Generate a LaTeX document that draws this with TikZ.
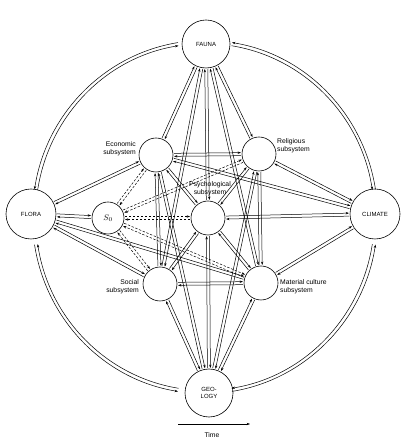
\documentclass[tikz,border=0pt]{standalone}
\usepackage{fontspec}
\setmainfont{Liberation Sans}
\usetikzlibrary{calc,arrows.meta}
\tikzset{
  link/.style={line width=0.5pt, -{Stealth[length=3.4pt,width=2.4pt]}},
  dashedlink/.style={dash pattern=on 2.4pt off 1.6pt},
  bignode/.style={circle, draw, line width=0.6pt, fill=white, minimum size=48pt, inner sep=0pt, font=\fontsize{6}{6.8}\selectfont, align=center},
  subnode/.style={circle, draw, line width=0.6pt, fill=white, minimum size=34pt, inner sep=0pt},
  lbl/.style={font=\fontsize{6.8}{8.2}\selectfont, inner sep=0pt},
}
% [opts]{a}{ra}{b}{rb}
\newcommand\dlink[5][]{%
  \draw[link,#1,shorten <=#3,shorten >=#5] ($(#2)!1.5pt!90:(#4)$) -- ($(#4)!1.5pt!-90:(#2)$);
  \draw[link,#1,shorten <=#5,shorten >=#3] ($(#4)!1.5pt!90:(#2)$) -- ($(#2)!1.5pt!-90:(#4)$);
}
% outer arc pair: {from angle}{to angle}: outer line a->b, inner line b->a
\newcommand\oarc[2]{%
  \draw[link] ($(C)+(#1:172.6pt and 176.6pt)$) arc[start angle=#1, end angle=#2, x radius=172.6pt, y radius=176.6pt];
  \draw[link] ($(C)+(#2:169.4pt and 173.4pt)$) arc[start angle=#2, end angle=#1, x radius=169.4pt, y radius=173.4pt];
}
\begin{document}
\begin{tikzpicture}[x=1pt,y=1pt]
\useasboundingbox (0,0) rectangle (405,441);
\coordinate (C) at (205,224);

% nodes
\node[bignode] (fauna) at (206,397) {FAUNA};
\node[bignode] (geology) at (209,48) {GEO-\\LOGY};
\node[bignode, minimum size=50pt] (flora) at (31,227) {FLORA};
\node[bignode, minimum size=50pt] (climate) at (375,227) {CLIMATE};
\node[subnode, minimum size=32pt, font=\fontsize{8}{9}\selectfont] (s0) at (108,223) {$S_0$};
\node[subnode] (econ) at (156,286) {};
\node[subnode] (relig) at (259,287) {};
\node[subnode] (psych) at (208,223) {};
\node[subnode] (social) at (160,157) {};
\node[subnode] (mat) at (261,158) {};

% labels
\node[lbl, align=right, anchor=east] (leco) at (136,292) {Economic\\subsystem};
\node[lbl, align=left, anchor=west] (lrel) at (277,295) {Religious\\subsystem};
\node[lbl, align=center] (lpsy) at (210,252) {Psychological\\subsystem};
\node[lbl, align=right, anchor=east] (lsoc) at (139,154) {Social\\subsystem};
\node[lbl, align=left, anchor=west] (lmat) at (280,154) {Material culture\\subsystem};

% outer ring
\oarc{9}{81}
\oarc{99}{171}
\oarc{189}{261}
\oarc{279}{351}

% fauna
\dlink{fauna}{25pt}{econ}{18pt}
\dlink{fauna}{25pt}{relig}{18pt}
\dlink{fauna}{25pt}{psych}{18pt}
\dlink{fauna}{25pt}{social}{18pt}
\dlink{fauna}{25pt}{mat}{18pt}
% flora
\dlink{flora}{26pt}{econ}{18pt}
\dlink{flora}{26pt}{s0}{17pt}
\dlink{flora}{26pt}{social}{18pt}
\dlink{flora}{26pt}{mat}{18pt}
% climate
\dlink{climate}{26pt}{econ}{18pt}
\dlink{climate}{26pt}{relig}{18pt}
\dlink{climate}{26pt}{psych}{18pt}
\dlink{climate}{26pt}{mat}{18pt}
% geology
\dlink{geology}{25pt}{social}{18pt}
\dlink{geology}{25pt}{mat}{18pt}
\dlink{geology}{25pt}{econ}{18pt}
\dlink{geology}{25pt}{relig}{18pt}
\dlink{geology}{25pt}{psych}{18pt}
% subsystems
\dlink{econ}{18pt}{relig}{18pt}
\dlink{econ}{18pt}{social}{18pt}
\dlink{relig}{18pt}{mat}{18pt}
\dlink{social}{18pt}{mat}{18pt}
\dlink{psych}{18pt}{econ}{18pt}
\dlink{psych}{18pt}{relig}{18pt}
\dlink{psych}{18pt}{social}{18pt}
\dlink{psych}{18pt}{mat}{18pt}
% S0 dashed
\dlink[dashedlink]{s0}{17pt}{econ}{18pt}
\dlink[dashedlink]{s0}{17pt}{relig}{18pt}
\dlink[dashedlink]{s0}{17pt}{psych}{18pt}
\dlink[dashedlink]{s0}{17pt}{social}{18pt}
\dlink[dashedlink]{s0}{17pt}{mat}{18pt}

% time arrow
\coordinate (t1) at (178,17);
\coordinate (t2) at (250,17);
\draw[link] (t1) -- (t2);
\node[lbl] (time) at (212,6) {Time};
\end{tikzpicture}
\end{document}
